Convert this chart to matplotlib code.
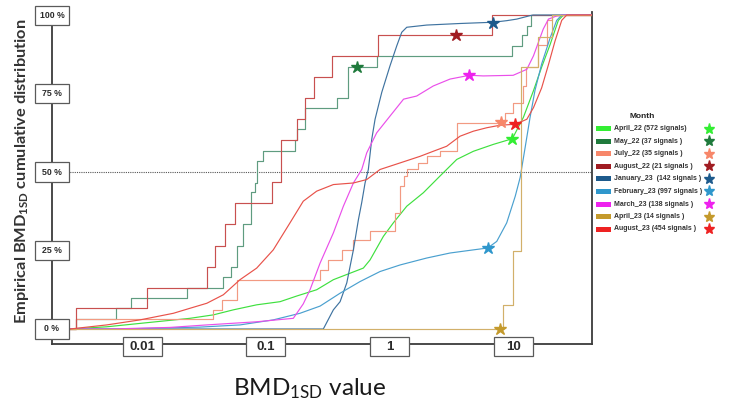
"""
Empirical BMD_1SD cumulative distribution by month (ECDF chart recreation)
"""

import matplotlib

matplotlib.use("Agg")
import matplotlib.pyplot as plt
from matplotlib.offsetbox import AnnotationBbox, DrawingArea
from matplotlib.patches import Rectangle
from matplotlib.text import Text

plt.rcParams["mathtext.default"] = "regular"

# ─────────────────────────────────────────────
# data
# ─────────────────────────────────────────────
MONTHS = [
    "April_22 (572 signals)",
    "May_22 (37 signals )",
    "July_22 (35 signals )",
    "August_22 (21 signals )",
    "January_23  (142 signals )",
    "February_23 (997 signals )",
    "March_23 (138 signals )",
    "April_23 (14 signals )",
    "August_23 (454 signals )",
]
KEY_COLORS = [
    "#33ee33", "#1f7a3c", "#f7876a", "#a01c22", "#1d5a8c",
    "#2f97cc", "#ee22ee", "#c49a2c", "#ee2222",
]
LINE_COLORS = [
    "#3fe03f", "#5f9c80", "#f29a82", "#c8504f", "#3f73a0",
    "#4aa0cf", "#ea4fea", "#d2b06a", "#e8524a",
]

# small monthly sets: ECDF jump positions and level after each jump
MAY22_X = [0.0029, 0.0062, 0.0081, 0.023, 0.0454, 0.0524, 0.0583, 0.0659, 0.0757,
           0.0819, 0.0855, 0.0946, 0.173, 0.180, 0.208, 0.375, 0.466, 0.798,
           9.75, 11.7, 12.9, 14.0]
MAY22_Y = [0.031, 0.066, 0.100, 0.132, 0.167, 0.198, 0.265, 0.335, 0.435,
           0.466, 0.535, 0.566, 0.601, 0.636, 0.703, 0.735, 0.833, 0.868,
           0.902, 0.936, 0.966, 1.0]

JUL22_X = [0.0029, 0.0377, 0.0441, 0.0583, 0.275, 0.321, 0.412, 0.511, 0.697,
           1.11, 1.22, 1.30, 1.38, 1.71, 2.0, 2.56, 3.50, 8.60, 10.0, 12.1,
           12.7, 16.0, 18.7, 20.5]
JUL22_Y = [0.031, 0.061, 0.093, 0.157, 0.188, 0.220, 0.252, 0.282, 0.311,
           0.370, 0.455, 0.487, 0.508, 0.529, 0.550, 0.566, 0.655, 0.689, 0.721,
           0.775, 0.834, 0.906, 0.984, 1.0]

AUG22_X = [0.0029, 0.011, 0.0334, 0.0389, 0.0469, 0.0565, 0.112, 0.132, 0.178,
           0.208, 0.246, 0.342, 0.81, 6.71]
AUG22_Y = [0.066, 0.132, 0.199, 0.265, 0.334, 0.402, 0.467, 0.601, 0.668,
           0.735, 0.803, 0.870, 0.936, 1.0]

APR23_X = [8.34, 9.93, 11.5, 15.9, 20.6]
APR23_Y = [0.078, 0.249, 0.834, 0.930, 1.0]

# large monthly sets: points
APR22_X = [0.00262, 0.00519, 0.0109, 0.0244, 0.0377, 0.0547, 0.0845, 0.1305, 0.178,
           0.258, 0.352, 0.615, 0.697, 0.893, 1.075, 1.38, 1.88, 2.56, 3.50,
           4.77, 6.92, 9.85, 12.1, 14.6, 17.0, 19.9, 23.2, 25.5]
APR22_Y = [0.0, 0.007, 0.020, 0.034, 0.045, 0.061, 0.077, 0.087, 0.105,
           0.125, 0.157, 0.194, 0.220, 0.295, 0.338, 0.391, 0.434, 0.487, 0.540,
           0.566, 0.588, 0.606, 0.674, 0.759, 0.834, 0.906, 0.983, 1.0]

JAN23_X = [0.292, 0.352, 0.399, 0.452, 0.511, 0.561, 0.597, 0.635, 0.675, 0.719,
           0.765, 0.867, 1.01, 1.146, 1.257, 1.38, 2.0, 3.72, 6.92, 8.87, 10.7,
           13.7, 14.5]
JAN23_Y = [0.0, 0.061, 0.087, 0.147, 0.252, 0.348, 0.403, 0.465, 0.508, 0.604,
           0.668, 0.754, 0.838, 0.902, 0.945, 0.961, 0.968, 0.973, 0.977, 0.982,
           0.987, 0.998, 1.0]

FEB23_X = [0.0066, 0.0294, 0.0619, 0.115, 0.189, 0.275, 0.399, 0.578, 0.839, 1.22,
           2.0, 3.09, 4.77, 6.23, 7.37, 8.87, 10.4, 11.4, 12.5, 13.7, 15.0, 17.0,
           19.9, 22.5, 24.7]
FEB23_Y = [0.0, 0.006, 0.013, 0.029, 0.050, 0.073, 0.114, 0.151, 0.183, 0.204,
           0.226, 0.242, 0.252, 0.258, 0.279, 0.338, 0.423, 0.483, 0.578, 0.674,
           0.759, 0.844, 0.927, 0.983, 1.0]

MAR23_X = [0.0055, 0.0168, 0.0334, 0.0845, 0.167, 0.201, 0.228, 0.275, 0.352,
           0.424, 0.511, 0.597, 0.655, 0.789, 1.01, 1.30, 1.66, 2.26, 3.09, 4.43,
           5.74, 10.0, 12.9, 14.6, 16.0, 17.5, 19.3, 22.5, 25.5]
MAR23_Y = [0.0, 0.005, 0.013, 0.023, 0.034, 0.080, 0.125, 0.210, 0.306,
           0.391, 0.465, 0.508, 0.561, 0.625, 0.678, 0.732, 0.742, 0.774, 0.796,
           0.808, 0.806, 0.808, 0.827, 0.870, 0.913, 0.955, 0.987, 0.997, 1.0]

AUG23_X = [0.00262, 0.00519, 0.00963, 0.0179, 0.0244, 0.0334, 0.0454, 0.0619,
           0.0845, 0.115, 0.157, 0.201, 0.258, 0.352, 0.511, 0.655, 0.839, 1.22,
           1.77, 2.26, 2.90, 3.72, 4.77, 6.12, 7.84, 10.4, 12.9, 14.6, 17.0, 19.3,
           21.8, 24.7, 27.1]
AUG23_Y = [0.0, 0.013, 0.029, 0.050, 0.066, 0.082, 0.109, 0.157, 0.194, 0.252,
           0.338, 0.407, 0.439, 0.460, 0.465, 0.476, 0.508, 0.529, 0.550, 0.566,
           0.582, 0.614, 0.630, 0.641, 0.649, 0.652, 0.668, 0.705, 0.768, 0.842,
           0.917, 0.983, 1.0]

# star markers (one per month, same order as MONTHS)
STAR_X = [9.85, 0.547, 7.98, 3.45, 6.88, 6.23, 4.43, 7.84, 10.4]
STAR_Y = [0.606, 0.834, 0.659, 0.936, 0.974, 0.258, 0.808, 0.0, 0.652]

Y_TICKS = [0.0, 0.25, 0.5, 0.75, 1.0]
Y_TICK_LABELS = ["0 %", "25 %", "50 %", "75 %", "100 %"]
X_TICKS = [0.01, 0.1, 1, 10]
X_TICK_LABELS = ["0.01", "0.1", "1", "10"]

XMIN, XMAX = 0.00187, 43.4

AXIS_GRAY = "#3c3c3c"
BOX_GRAY = "#5a5a5a"


# ─────────────────────────────────────────────
# helpers
# ─────────────────────────────────────────────
def boxed_label(ax, text, xy, xycoords, w_pt, h_pt, fs, offset=(0, 0)):
    """fixed-size white box with bold centred text"""
    da = DrawingArea(w_pt, h_pt, 0, 0)
    da.add_artist(
        Text(w_pt / 2, h_pt / 2, text, ha="center", va="center", fontsize=fs,
             fontweight="bold", family="Liberation Sans", color="#2a2a2a")
    )
    ab = AnnotationBbox(
        da, xy, xycoords=xycoords, xybox=offset, boxcoords="offset points",
        frameon=True, pad=0, box_alignment=(0.5, 0.5),
        bboxprops=dict(boxstyle="square,pad=0", edgecolor=BOX_GRAY,
                       facecolor="white", lw=0.9),
    )
    ab.set_zorder(10)
    ab.set_clip_on(False)
    ax.add_artist(ab)


def draw_step(ax, xs, ys, color):
    ax.step([XMIN] + xs + [XMAX], [0.0] + ys + [1.0], where="post",
            color=color, lw=0.85, zorder=3)


def draw_curve(ax, xs, ys, color):
    ax.plot([XMIN] + xs + [XMAX], [0.0] + ys + [1.0], color=color, lw=0.85,
            zorder=3)


# ─────────────────────────────────────────────
# figure
# ─────────────────────────────────────────────
fig = plt.figure(figsize=(7.44, 4.05), dpi=100)
ax = fig.add_axes([52 / 744, 1 - 344 / 405, 540 / 744, 332 / 405])

ax.set_xscale("log")
ax.set_xlim(XMIN, XMAX)
ax.set_ylim(-0.0478, 1.0096)

draw_curve(ax, APR22_X, APR22_Y, LINE_COLORS[0])
draw_step(ax, MAY22_X, MAY22_Y, LINE_COLORS[1])
draw_step(ax, JUL22_X, JUL22_Y, LINE_COLORS[2])
draw_step(ax, AUG22_X, AUG22_Y, LINE_COLORS[3])
draw_curve(ax, JAN23_X, JAN23_Y, LINE_COLORS[4])
draw_curve(ax, FEB23_X, FEB23_Y, LINE_COLORS[5])
draw_curve(ax, MAR23_X, MAR23_Y, LINE_COLORS[6])
draw_step(ax, APR23_X, APR23_Y, LINE_COLORS[7])
draw_curve(ax, AUG23_X, AUG23_Y, LINE_COLORS[8])

for sx, sy, c in zip(STAR_X, STAR_Y, KEY_COLORS):
    ax.plot(sx, sy, marker="*", ms=9, color=c, mec=c, zorder=6, clip_on=False)

ax.axhline(0.5, color="#555555", lw=0.8, ls=(0, (1, 1)), zorder=2)

# spines: left / bottom / right
for side in ("left", "bottom", "right"):
    ax.spines[side].set_color(AXIS_GRAY)
    ax.spines[side].set_linewidth(1.3)
ax.spines["top"].set_visible(False)
ax.tick_params(which="both", length=0, labelleft=False, labelbottom=False)
ax.set_xticks([])
ax.set_xticks([], minor=True)
ax.set_yticks([])

# boxed tick labels
for v, lab in zip(Y_TICKS, Y_TICK_LABELS):
    boxed_label(ax, lab, (0, v), ax.get_yaxis_transform(), 24.5, 13.7, 6.3)
for v, lab in zip(X_TICKS, X_TICK_LABELS):
    boxed_label(ax, lab, (v, 0), ax.get_xaxis_transform(), 28, 13.7, 9.5,
                offset=(0, -2))

# axis titles
fig.text(22 / 744, 1 - 171 / 405,
         "Empirical BMD$_{1SD}$ cumulative distribution",
         rotation=90, ha="center", va="center", fontsize=11.8,
         fontweight="bold", family="Lato", color="#333333")
fig.text(310 / 744, 1 - 389 / 405, "BMD$_{1SD}$ value", ha="center",
         va="center", fontsize=17.5, family="Lato", color="#1a1a1a")

# ─────────────────────────────────────────────
# legend (colour key + star)
# ─────────────────────────────────────────────
lg = fig.add_axes([590 / 744, 1 - 236.5 / 405, 154 / 744, 127.5 / 405])
lg.set_xlim(0, 154)
lg.set_ylim(8.6, -1.6)
lg.axis("off")
lg.text(52, -0.96, "Month", ha="center", va="center", fontsize=6,
        fontweight="bold", family="Liberation Sans", color="#222222")
for i, (name, c) in enumerate(zip(MONTHS, KEY_COLORS)):
    lg.add_patch(Rectangle((6, i - 0.2), 15, 0.4, color=c, lw=0))
    lg.text(24, i, name, ha="left", va="center", fontsize=5,
            fontweight="bold", family="Liberation Sans", color="#333333")
    lg.plot(119, i, marker="*", ms=8, color=c, mec=c)

fig.savefig("out.png", dpi=100)
